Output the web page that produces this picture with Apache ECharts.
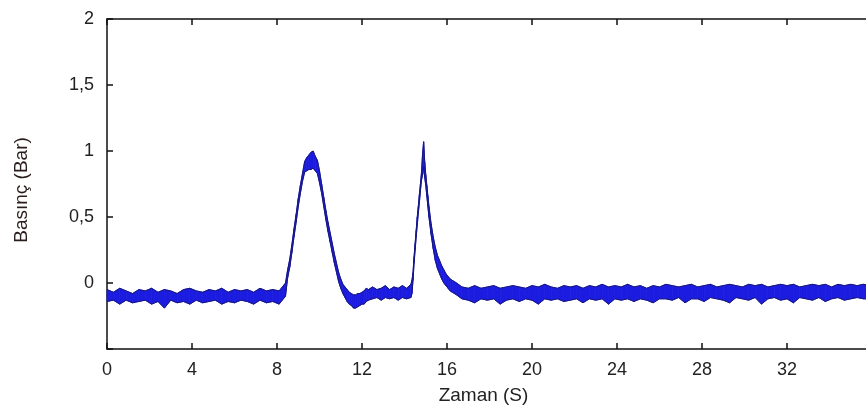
<!DOCTYPE html>
<html>
<head>
<meta charset="utf-8">
<script src="https://cdn.jsdelivr.net/npm/echarts@6/dist/echarts.min.js"></script>
<style>
html,body{margin:0;padding:0;background:#fff;}
#chart{width:866px;height:412px;}
</style>
</head>
<body>
<div id="chart"></div>
<script>
// Time (s) of each sample
const time = [
  0,0.3,0.6,0.9,1.2,1.5,1.8,2.1,2.4,2.7,3,3.3,3.6,3.9,4.2,4.5,4.8,5.1,5.4,5.7,6,6.3,6.6,6.9,7.2,7.5,7.8,8.1,
  8.4,8.5,8.6,8.7,8.8,8.9,9.0,9.1,9.2,9.3,9.4,9.5,9.6,9.7,9.8,9.9,10.0,10.1,10.2,10.3,
  10.4,10.5,10.6,10.7,10.8,10.9,11.0,11.1,11.2,11.3,11.4,11.5,11.6,11.7,11.8,11.9,12.0,12.1,12.2,12.3,
  12.5,12.7,12.9,13.1,13.3,13.5,13.7,13.9,14.1,14.3,
  14.35,14.4,14.45,14.5,14.55,14.6,14.65,14.7,14.75,14.8,14.85,14.9,14.95,15.0,15.05,15.1,15.15,
  15.25,15.35,15.45,15.55,15.65,15.75,15.85,15.95,16.05,16.15,16.25,16.35,16.45,
  16.7,17.0,17.3,17.6,17.9,18.2,18.5,18.8,19.1,19.4,19.7,20.0,20.3,20.6,20.9,21.2,21.5,21.8,22.1,22.4,
  22.7,23.0,23.3,23.6,23.9,24.2,24.5,24.8,25.1,25.4,25.7,26.0,26.3,26.6,26.9,27.2,27.5,27.8,28.1,28.4,
  28.7,29.0,29.3,29.6,29.9,30.2,30.5,30.8,31.1,31.4,31.7,32.0,32.3,32.6,32.9,33.2,33.5,33.8,34.1,34.4,
  34.7,35.0,35.3,35.6,35.9
];
// Upper edge of the noisy pressure trace (Bar)
const upper = [
  -0.05,-0.07,-0.04,-0.06,-0.08,-0.05,-0.06,-0.04,-0.07,-0.05,-0.06,-0.08,-0.05,-0.04,-0.06,-0.07,-0.05,-0.06,-0.04,-0.07,-0.05,-0.06,-0.05,-0.07,-0.04,-0.06,-0.05,-0.06,
  0.00,0.10,0.18,0.29,0.41,0.52,0.64,0.74,0.83,0.92,0.95,0.97,0.99,1.00,0.96,0.93,0.85,0.75,0.65,0.55,
  0.46,0.38,0.30,0.22,0.15,0.08,0.03,-0.01,-0.03,-0.05,-0.07,-0.08,-0.09,-0.09,-0.08,-0.08,-0.07,-0.06,-0.04,-0.05,
  -0.03,-0.05,-0.04,-0.02,-0.05,-0.03,-0.04,-0.02,-0.04,-0.01,
  0.02,0.08,0.20,0.30,0.40,0.50,0.58,0.67,0.75,0.84,0.98,1.07,0.92,0.82,0.74,0.66,0.58,
  0.45,0.35,0.27,0.21,0.17,0.13,0.10,0.07,0.05,0.03,0.02,0.01,0.00,
  -0.03,-0.04,-0.02,-0.04,-0.03,-0.02,-0.04,-0.03,-0.02,-0.03,-0.04,-0.02,-0.03,-0.01,-0.03,-0.04,-0.02,-0.03,-0.02,-0.04,
  -0.02,-0.03,-0.01,-0.03,-0.02,-0.03,-0.01,-0.03,-0.02,-0.04,-0.02,-0.03,-0.01,-0.02,-0.03,-0.02,-0.01,-0.03,-0.02,-0.01,
  -0.03,-0.02,-0.01,-0.02,-0.03,-0.01,-0.02,-0.01,-0.03,-0.02,-0.01,-0.02,-0.01,-0.03,-0.02,-0.01,-0.02,-0.01,-0.03,-0.01,
  -0.02,-0.01,-0.02,-0.01,-0.02
];
// Lower edge of the noisy pressure trace (Bar)
const lower = [
  -0.14,-0.13,-0.16,-0.13,-0.15,-0.14,-0.13,-0.16,-0.14,-0.19,-0.13,-0.15,-0.14,-0.16,-0.13,-0.15,-0.14,-0.13,-0.16,-0.14,-0.15,-0.13,-0.14,-0.16,-0.13,-0.15,-0.14,-0.16,
  -0.10,0.04,0.12,0.23,0.35,0.46,0.58,0.68,0.77,0.84,0.85,0.86,0.86,0.87,0.85,0.83,0.76,0.68,0.58,0.48,
  0.39,0.31,0.23,0.15,0.08,0.01,-0.04,-0.08,-0.11,-0.14,-0.16,-0.17,-0.19,-0.19,-0.18,-0.17,-0.16,-0.16,-0.14,-0.13,
  -0.12,-0.11,-0.13,-0.11,-0.12,-0.11,-0.13,-0.11,-0.12,-0.11,
  -0.08,0.02,0.15,0.25,0.35,0.44,0.53,0.61,0.70,0.78,0.82,0.88,0.80,0.74,0.66,0.58,0.50,
  0.37,0.26,0.17,0.11,0.07,0.03,0.00,-0.02,-0.04,-0.06,-0.07,-0.08,-0.09,
  -0.12,-0.13,-0.15,-0.12,-0.13,-0.12,-0.16,-0.13,-0.12,-0.14,-0.12,-0.13,-0.16,-0.12,-0.13,-0.12,-0.14,-0.13,-0.12,-0.15,
  -0.12,-0.13,-0.12,-0.16,-0.12,-0.13,-0.12,-0.14,-0.12,-0.13,-0.15,-0.12,-0.12,-0.13,-0.11,-0.15,-0.12,-0.12,-0.14,-0.11,
  -0.12,-0.13,-0.15,-0.11,-0.12,-0.13,-0.11,-0.16,-0.12,-0.11,-0.13,-0.12,-0.15,-0.11,-0.12,-0.13,-0.11,-0.14,-0.12,-0.11,
  -0.13,-0.12,-0.11,-0.12,-0.12
];
const xTicks = [0,4,8,12,16,20,24,28,32];
const yTicks = [-0.5,0,0.5,1,1.5,2];
const xName = 'Zaman (S)';
const yName = 'Basınç (Bar)';

const upperData = time.map((t,i)=>[t, upper[i]]);
const lowerData = time.map((t,i)=>[t, lower[i]]);
// one quad per sample interval: [t0, lo0, up0, t1, lo1, up1]
const bandData = [];
for (let i = 0; i < time.length - 1; i++) {
  bandData.push([time[i], lower[i], upper[i], time[i+1], lower[i+1], upper[i+1]]);
}

const FONT = '"Liberation Sans", Arial, sans-serif';
const axisLine = {show:true, onZero:false, lineStyle:{color:'#111', width:1.5}};
const tick = {show:true, inside:true, length:6, lineStyle:{color:'#111', width:1.5}};
const FILL = '#1c1ce0';
const EDGE = '#17177a';

const chart = echarts.init(document.getElementById('chart'), null, {renderer:'canvas'});
chart.setOption({
  backgroundColor:'#ffffff',
  animation:false,
  grid:{left:107, top:19, width:765, height:330, outerBoundsMode:'none', containLabel:false},
  xAxis:[{
    type:'value', min:xTicks[0], max:36, interval:4, position:'bottom',
    axisLine:axisLine, axisTick:tick, splitLine:{show:false},
    axisLabel:{fontFamily:FONT, fontSize:18, color:'#222', margin:12,
      formatter:v=> xTicks.indexOf(v)>=0 ? String(v) : ''},
    name:xName, nameLocation:'middle', nameGap:37,
    nameTextStyle:{fontFamily:FONT, fontSize:19, color:'#222', padding:[0,12,0,0]}
  },{
    type:'value', min:0, max:36, interval:4, position:'top',
    axisLine:axisLine, axisTick:tick, splitLine:{show:false}, axisLabel:{show:false}
  }],
  yAxis:[{
    type:'value', min:yTicks[0], max:2, interval:0.5, position:'left',
    axisLine:axisLine, axisTick:tick, splitLine:{show:false},
    axisLabel:{fontFamily:FONT, fontSize:18, color:'#222', margin:13,
      formatter:v=> (v<0 ? '' : String(v).replace('.', ','))},
    name:yName, nameLocation:'middle', nameRotate:90, nameGap:76,
    nameTextStyle:{fontFamily:FONT, fontSize:19, color:'#2a1c1c', padding:[0,12,0,0]}
  },{
    type:'value', min:-0.5, max:2, interval:0.5, position:'right',
    axisLine:axisLine, axisTick:tick, splitLine:{show:false}, axisLabel:{show:false}
  }],
  series:[{
    type:'custom', data:bandData, z:3,
    encode:{x:[0,3], y:[1,2,4,5]},
    renderItem:function(params, api){
      const a = api.coord([api.value(0), api.value(1)]);
      const b = api.coord([api.value(3), api.value(4)]);
      const c = api.coord([api.value(3), api.value(5)]);
      const d = api.coord([api.value(0), api.value(2)]);
      return {type:'polygon', shape:{points:[a,b,c,d]},
        style:{fill:FILL, stroke:FILL, lineWidth:0.8}};
    }
  },{
    type:'line', data:upperData, symbol:'none', z:4,
    lineStyle:{color:EDGE, width:1}
  },{
    type:'line', data:lowerData, symbol:'none', z:4,
    lineStyle:{color:EDGE, width:1}
  }]
});
</script>
</body>
</html>
